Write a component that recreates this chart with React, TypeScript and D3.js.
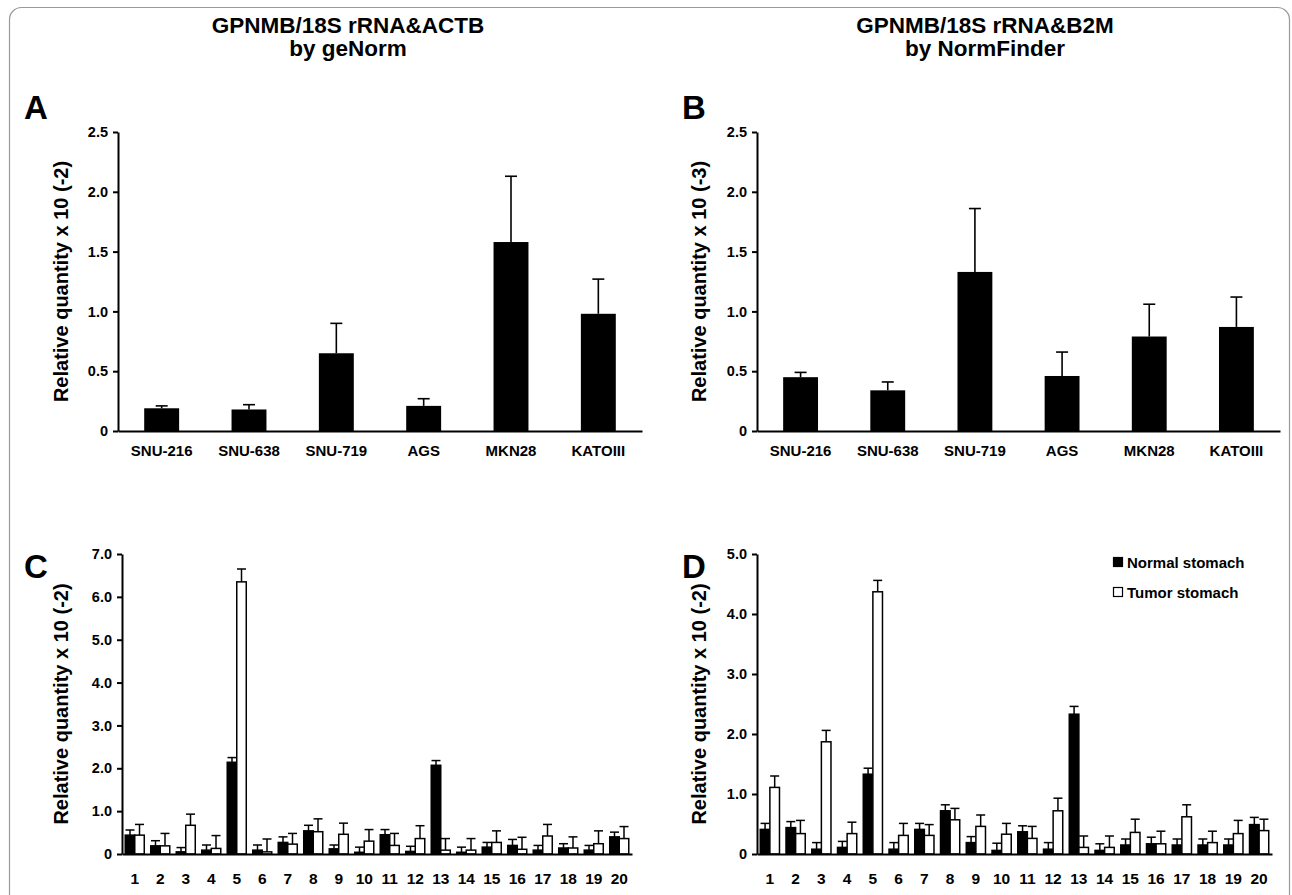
import {useEffect, useRef} from "react"
import * as d3 from "d3"

// cell lines (panels A, B)
const cellLines = ["SNU-216", "SNU-638", "SNU-719", "AGS", "MKN28", "KATOIII"]
const genormCellMean = [0.19, 0.18, 0.65, 0.21, 1.58, 0.98]
const genormCellErr = [0.02, 0.04, 0.25, 0.06, 0.55, 0.29]
const normfinderCellMean = [0.45, 0.34, 1.33, 0.46, 0.79, 0.87]
const normfinderCellErr = [0.04, 0.07, 0.53, 0.2, 0.27, 0.25]

// patients (panels C, D)
const patients = d3.range(1, 21).map(String)
const genormNormal = [0.44, 0.19, 0.05, 0.09, 2.14, 0.09, 0.27, 0.54, 0.12, 0.04, 0.45, 0.06, 2.07, 0.04, 0.16, 0.2, 0.09, 0.14, 0.09, 0.4]
const genormNormalErr = [0.12, 0.12, 0.1, 0.12, 0.11, 0.12, 0.13, 0.13, 0.09, 0.12, 0.12, 0.12, 0.11, 0.12, 0.11, 0.14, 0.11, 0.1, 0.11, 0.11]
const genormTumor = [0.44, 0.19, 0.67, 0.13, 6.35, 0.05, 0.23, 0.52, 0.46, 0.3, 0.2, 0.36, 0.09, 0.09, 0.27, 0.11, 0.42, 0.14, 0.24, 0.36]
const genormTumorErr = [0.25, 0.29, 0.26, 0.3, 0.3, 0.3, 0.25, 0.3, 0.26, 0.27, 0.28, 0.3, 0.27, 0.27, 0.27, 0.28, 0.27, 0.26, 0.3, 0.28]
const normfinderNormal = [0.41, 0.44, 0.08, 0.11, 1.33, 0.08, 0.41, 0.72, 0.19, 0.06, 0.37, 0.08, 2.33, 0.06, 0.15, 0.17, 0.15, 0.15, 0.15, 0.49]
const normfinderNormalErr = [0.1, 0.1, 0.11, 0.1, 0.1, 0.11, 0.1, 0.1, 0.1, 0.12, 0.1, 0.11, 0.13, 0.11, 0.1, 0.11, 0.1, 0.1, 0.1, 0.12]
const normfinderTumor = [1.11, 0.34, 1.87, 0.34, 4.37, 0.31, 0.31, 0.57, 0.46, 0.33, 0.26, 0.72, 0.11, 0.11, 0.36, 0.17, 0.62, 0.19, 0.34, 0.39]
const normfinderTumorErr = [0.19, 0.22, 0.19, 0.19, 0.19, 0.2, 0.18, 0.19, 0.19, 0.18, 0.2, 0.21, 0.19, 0.19, 0.22, 0.21, 0.2, 0.19, 0.22, 0.19]

const ticksAB = [0, 0.5, 1.0, 1.5, 2.0, 2.5]
const ticksC = [0, 1, 2, 3, 4, 5, 6, 7]
const ticksD = [0, 1, 2, 3, 4, 5]
const legendItems = ["Normal stomach", "Tumor stomach"]

const FONT = "Arial, 'Liberation Sans', Helvetica, sans-serif"
const fmt = (d: number) => (d === 0 ? "0" : d3.format(".1f")(d))

type Frame = {
  left: number
  right: number
  top: number
  bottom: number
}

function drawAxes(g, x, y, ticks, f: Frame, ylabel: string, labelX: number, labelFont: number, xPad: number) {
  g.append("g")
    .attr("transform", `translate(0,${f.bottom})`)
    .call(d3.axisBottom(x).tickSize(0).tickSizeOuter(0).tickPadding(xPad))
    .call((a) => a.select(".domain").attr("stroke-width", 2))
    .call((a) => a.selectAll("text").attr("font-size", labelFont).attr("font-weight", "bold").attr("font-family", FONT).attr("fill", "#000"))

  g.append("g")
    .attr("transform", `translate(${f.left},0)`)
    .call(d3.axisLeft(y).tickValues(ticks).tickFormat(fmt).tickSize(5).tickSizeOuter(0).tickPadding(5))
    .call((a) => a.select(".domain").attr("stroke-width", 2))
    .call((a) => a.selectAll("line").attr("stroke-width", 2))
    .call((a) => a.selectAll("text").attr("font-size", 14.5).attr("font-weight", "bold").attr("font-family", FONT).attr("fill", "#000"))

  g.append("text")
    .attr("transform", `translate(${labelX},${(f.top + f.bottom) / 2}) rotate(-90)`)
    .attr("text-anchor", "middle")
    .attr("font-size", 20)
    .attr("font-weight", "bold")
    .attr("font-family", FONT)
    .text(ylabel)
}

function cellPanel(svg, f: Frame, mean: number[], err: number[], ylabel: string, labelX: number) {
  const g = svg.append("g")
  const x = d3.scaleBand().domain(cellLines).range([f.left, f.right]).paddingInner(0.6).paddingOuter(0.3)
  const y = d3.scaleLinear().domain([0, 2.5]).range([f.bottom, f.top])
  const rows = cellLines.map((c, i) => ({c, v: mean[i], e: err[i]}))

  // error bars (upper only)
  const eb = g.append("g").attr("stroke", "#000").attr("stroke-width", 1.6)
  eb.selectAll("line.v").data(rows).join("line")
    .attr("x1", (d) => x(d.c) + x.bandwidth() / 2)
    .attr("x2", (d) => x(d.c) + x.bandwidth() / 2)
    .attr("y1", (d) => y(d.v))
    .attr("y2", (d) => y(d.v + d.e))
  eb.selectAll("line.h").data(rows).join("line")
    .attr("x1", (d) => x(d.c) + x.bandwidth() / 2 - 6)
    .attr("x2", (d) => x(d.c) + x.bandwidth() / 2 + 6)
    .attr("y1", (d) => y(d.v + d.e))
    .attr("y2", (d) => y(d.v + d.e))

  g.append("g").selectAll("rect").data(rows).join("rect")
    .attr("x", (d) => x(d.c))
    .attr("width", x.bandwidth())
    .attr("y", (d) => y(d.v))
    .attr("height", (d) => y(0) - y(d.v))
    .attr("fill", "#000")

  drawAxes(g, x, y, ticksAB, f, ylabel, labelX, 15, 14)
}

function patientPanel(svg, f: Frame, ymax: number, ticks: number[], normal: number[], normalErr: number[], tumor: number[], tumorErr: number[], labelX: number) {
  const g = svg.append("g")
  const x = d3.scaleBand().domain(patients).range([f.left, f.right])
  const inner = d3.scaleBand().domain(["n", "t"]).range([0, x.bandwidth()]).paddingOuter(0.34)
  const y = d3.scaleLinear().domain([0, ymax]).range([f.bottom, f.top])
  const rows = patients.flatMap((p, i) => [
    {p, k: "n", v: normal[i], e: normalErr[i]},
    {p, k: "t", v: tumor[i], e: tumorErr[i]},
  ])
  const cx = (d) => x(d.p) + inner(d.k) + inner.bandwidth() / 2

  const eb = g.append("g").attr("stroke", "#000").attr("stroke-width", 1.5)
  eb.selectAll("line.v").data(rows).join("line")
    .attr("x1", cx).attr("x2", cx)
    .attr("y1", (d) => y(d.v))
    .attr("y2", (d) => y(d.v + d.e))
  eb.selectAll("line.h").data(rows).join("line")
    .attr("x1", (d) => cx(d) - 4.5)
    .attr("x2", (d) => cx(d) + 4.5)
    .attr("y1", (d) => y(d.v + d.e))
    .attr("y2", (d) => y(d.v + d.e))

  g.append("g").selectAll("rect").data(rows).join("rect")
    .attr("x", (d) => x(d.p) + inner(d.k))
    .attr("width", inner.bandwidth())
    .attr("y", (d) => y(d.v))
    .attr("height", (d) => y(0) - y(d.v))
    .attr("fill", (d) => (d.k === "n" ? "#000" : "#fff"))
    .attr("stroke", "#000")
    .attr("stroke-width", 1.5)

  drawAxes(g, x, y, ticks, f, "Relative quantity x 10 (-2)", labelX, 15.5, 19)
}

export default function App() {
  const ref = useRef<SVGSVGElement>(null)

  useEffect(() => {
    document.body.style.margin = "0"
    const svg = d3.select(ref.current)
    svg.selectAll("*").remove()

    // rounded frame
    svg.append("rect")
      .attr("x", 9.5).attr("y", 7.5)
      .attr("width", 1280).attr("height", 920)
      .attr("rx", 12)
      .attr("fill", "none")
      .attr("stroke", "#999")
      .attr("stroke-width", 1.2)

    const titles = [
      {x: 348, lines: ["GPNMB/18S rRNA&ACTB", "by geNorm"]},
      {x: 985, lines: ["GPNMB/18S rRNA&B2M", "by NormFinder"]},
    ]
    titles.forEach((t) => {
      svg.append("text")
        .attr("x", t.x).attr("y", 33)
        .attr("text-anchor", "middle")
        .attr("font-size", 22.5).attr("font-weight", "bold").attr("font-family", FONT)
        .selectAll("tspan").data(t.lines).join("tspan")
        .attr("x", t.x)
        .attr("dy", (_, i) => (i === 0 ? 0 : 23))
        .text((d) => d)
    })

    const letters = [
      {t: "A", x: 24, y: 119},
      {t: "B", x: 682, y: 119},
      {t: "C", x: 24, y: 578},
      {t: "D", x: 682, y: 578},
    ]
    svg.append("g").selectAll("text").data(letters).join("text")
      .attr("x", (d) => d.x).attr("y", (d) => d.y)
      .attr("font-size", 33).attr("font-weight", "bold").attr("font-family", FONT)
      .text((d) => d.t)

    cellPanel(svg, {left: 118, right: 642, top: 132, bottom: 431}, genormCellMean, genormCellErr, "Relative quantity x 10 (-2)", 68)
    cellPanel(svg, {left: 757, right: 1280, top: 132, bottom: 431}, normfinderCellMean, normfinderCellErr, "Relative quantity x 10 (-3)", 706)

    patientPanel(svg, {left: 122, right: 632, top: 554, bottom: 854}, 7, ticksC, genormNormal, genormNormalErr, genormTumor, genormTumorErr, 68)
    patientPanel(svg, {left: 757, right: 1272, top: 554, bottom: 854}, 5, ticksD, normfinderNormal, normfinderNormalErr, normfinderTumor, normfinderTumorErr, 706)

    // legend
    const lg = svg.append("g").attr("transform", "translate(1113,562)")
    const row = lg.selectAll("g").data(legendItems).join("g")
      .attr("transform", (_, i) => `translate(0,${i * 30})`)
    row.append("rect")
      .attr("x", 0.5).attr("y", -4.5).attr("width", 9).attr("height", 9)
      .attr("fill", (_, i) => (i === 0 ? "#000" : "#fff"))
      .attr("stroke", "#000").attr("stroke-width", 1.2)
    row.append("text")
      .attr("x", 14).attr("y", 5.5)
      .attr("font-size", 15).attr("font-weight", "bold").attr("font-family", FONT)
      .text((d) => d)
  }, [])

  return <svg ref={ref} width={1292} height={895} style={{display: "block"}}></svg>
}
